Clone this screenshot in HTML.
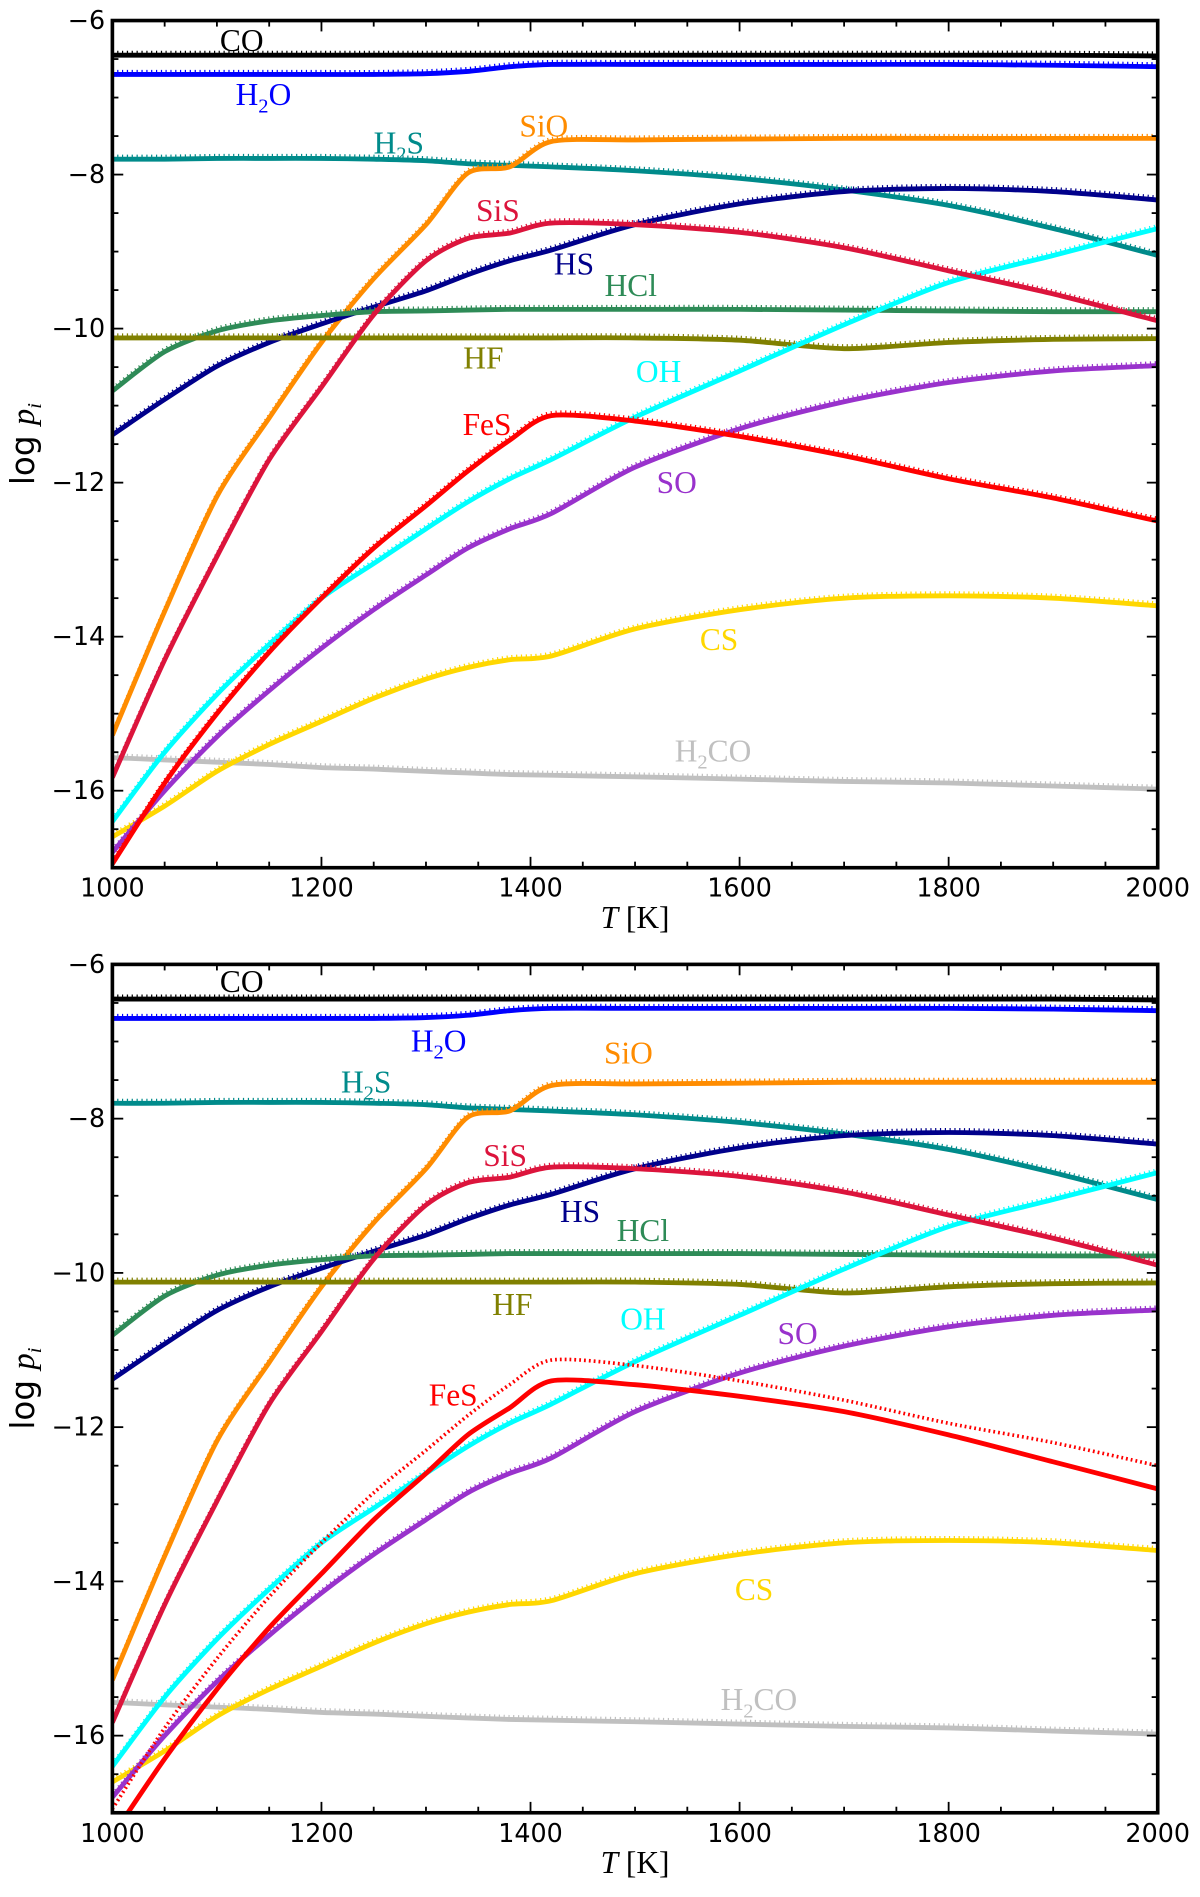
<!DOCTYPE html>
<html><head><meta charset="utf-8">
<style>
html,body{margin:0;padding:0;background:#fff;}
svg{display:block;}
.tk{font-family:"DejaVu Sans","Liberation Sans",sans-serif;font-size:21px;fill:#000;}
.lab{font-family:"Liberation Serif",serif;font-size:26px;}
</style></head>
<body>
<svg id="fig" width="1200" height="1897" viewBox="0 0 993 1569.7" preserveAspectRatio="none" xmlns="http://www.w3.org/2000/svg"></svg>
<script>
// ---------- data ----------
const temps = [1000,1050,1100,1150,1200,1250,1300,1340,1380,1420,1500,1600,1700,1800,1900,2000];
const coVals   = [-6.45,-6.45,-6.45,-6.45,-6.45,-6.45,-6.45,-6.45,-6.45,-6.45,-6.45,-6.45,-6.45,-6.45,-6.45,-6.46];
const h2oVals  = [-6.7,-6.7,-6.7,-6.7,-6.7,-6.7,-6.69,-6.66,-6.6,-6.57,-6.57,-6.57,-6.57,-6.57,-6.58,-6.6];
const h2sVals  = [-7.8,-7.8,-7.79,-7.79,-7.79,-7.8,-7.82,-7.86,-7.88,-7.9,-7.95,-8.05,-8.2,-8.4,-8.7,-9.05];
const sioVals  = [-15.28,-13.67,-12.18,-11.16,-10.18,-9.35,-8.65,-7.98,-7.9,-7.57,-7.55,-7.54,-7.53,-7.53,-7.53,-7.53];
const sisVals  = [-15.83,-14.3,-12.96,-11.7,-10.76,-9.82,-9.12,-8.83,-8.76,-8.63,-8.65,-8.75,-8.95,-9.25,-9.55,-9.9];
const hsVals   = [-11.38,-10.92,-10.49,-10.18,-9.94,-9.72,-9.51,-9.3,-9.12,-8.98,-8.65,-8.38,-8.22,-8.18,-8.22,-8.33];
const hclVals  = [-10.81,-10.3,-10.03,-9.9,-9.83,-9.78,-9.77,-9.76,-9.75,-9.75,-9.75,-9.75,-9.76,-9.77,-9.78,-9.78];
const hfVals   = [-10.12,-10.12,-10.12,-10.12,-10.12,-10.12,-10.12,-10.12,-10.12,-10.12,-10.12,-10.15,-10.26,-10.18,-10.14,-10.13];
const fesTop   = [-16.95,-15.9,-15.0,-14.2,-13.5,-12.85,-12.3,-11.85,-11.45,-11.13,-11.2,-11.4,-11.65,-11.95,-12.2,-12.5];
const fesBot   = [-17.3,-16.3,-15.4,-14.6,-13.9,-13.2,-12.6,-12.1,-11.75,-11.4,-11.45,-11.6,-11.8,-12.1,-12.45,-12.8];
const ohVals   = [-16.4,-15.5,-14.75,-14.1,-13.5,-13.05,-12.6,-12.25,-11.95,-11.7,-11.15,-10.55,-9.95,-9.4,-9.05,-8.7];
const soVals   = [-16.8,-16.0,-15.3,-14.7,-14.15,-13.65,-13.2,-12.85,-12.6,-12.4,-11.8,-11.3,-10.95,-10.7,-10.55,-10.48];
const csVals   = [-16.6,-16.2,-15.75,-15.4,-15.1,-14.8,-14.55,-14.4,-14.3,-14.25,-13.9,-13.65,-13.5,-13.47,-13.5,-13.6];
const h2coVals = [-15.57,-15.6,-15.63,-15.66,-15.7,-15.72,-15.75,-15.77,-15.79,-15.8,-15.82,-15.85,-15.88,-15.9,-15.94,-15.98];
const xTicks = [1000,1200,1400,1600,1800,2000];
const yTicks = [-6,-8,-10,-12,-14,-16];

const NS="http://www.w3.org/2000/svg";
const svg=document.getElementById('fig');
function el(tag,attrs,parent){const e=document.createElementNS(NS,tag);for(const k in attrs)e.setAttribute(k,attrs[k]);(parent||svg).appendChild(e);return e;}
function smoothPath(P){
  let d='M'+P[0][0].toFixed(1)+','+P[0][1].toFixed(1);
  for(let i=0;i<P.length-1;i++){
    const p0=P[Math.max(0,i-1)],p1=P[i],p2=P[i+1],p3=P[Math.min(P.length-1,i+2)];
    const k=1/6*0.8;
    const c1=[p1[0]+(p2[0]-p0[0])*k,p1[1]+(p2[1]-p0[1])*k];
    const c2=[p2[0]-(p3[0]-p1[0])*k,p2[1]-(p3[1]-p1[1])*k];
    d+=' C'+c1[0].toFixed(1)+','+c1[1].toFixed(1)+' '+c2[0].toFixed(1)+','+c2[1].toFixed(1)+' '+p2[0].toFixed(1)+','+p2[1].toFixed(1);
  }
  return d;
}

function drawPanel(top,bottom,fesSolid,fesDotted,labels,name,bigDotFes){
  const L=93,R=958;
  const g=el('g',{});
  
  
  const xs=t=>L+(t-1000)/1000*(R-L);
  const ys=v=>top+(-6-v)/11*(bottom-top);
  const clipId='clip'+name;
  const cp=el('clipPath',{id:clipId},g);el('rect',{x:L,y:top,width:R-L,height:bottom-top},cp);
  const lines=el('g',{'clip-path':'url(#'+clipId+')'},g);
  const series=[
    ['co',coVals,'#000'],['h2o',h2oVals,'#0000ff'],['h2s',h2sVals,'#008b8b'],['sio',sioVals,'#ff8c00'],
    ['hs',hsVals,'#00008b'],['hcl',hclVals,'#2e8b57'],['hf',hfVals,'#808000'],['h2co',h2coVals,'#c0c0c0'],
    ['cs',csVals,'#ffd700'],['so',soVals,'#9932cc'],['oh',ohVals,'#00ffff'],['sis',sisVals,'#dc143c'],['fes',fesSolid,'#ff0000']];
  const pts=arr=>temps.map((t,i)=>[xs(t),ys(arr[i])]);
  series.forEach(([n,arr,c])=>{
    const isBig=(n==='fes'&&bigDotFes);
    const d=el('path',{d:smoothPath(pts(n==='fes'?fesDotted:arr)),fill:'none',stroke:c,'stroke-width':isBig?3:2.5,'stroke-dasharray':isBig?'1.5,2.5':'1,3',transform:isBig?'':'translate(0,-2.5)'},lines);
    
    
    const s=el('path',{d:smoothPath(pts(arr)),fill:'none',stroke:c,'stroke-width':4,'stroke-linejoin':'round'},lines);
    
    
  });
  const f=el('rect',{x:L,y:top,width:R-L,height:bottom-top,fill:'none',stroke:'#000','stroke-width':3},g);
  
  
  for(let t=1000;t<=2000;t+=50){const major=t%200===0;const len=major?9:5;const x=xs(t);
    el('line',{x1:x,y1:bottom,x2:x,y2:bottom-len,stroke:'#000','stroke-width':1.5},g);
    el('line',{x1:x,y1:top,x2:x,y2:top+len,stroke:'#000','stroke-width':1.5},g);}
  for(let v=-6;v>=-17;v-=0.5){const major=Math.abs(v%2)===0;const len=major?9:5;const y=ys(v);
    el('line',{x1:L,y1:y,x2:L+len,y2:y,stroke:'#000','stroke-width':1.5},g);
    el('line',{x1:R,y1:y,x2:R-len,y2:y,stroke:'#000','stroke-width':1.5},g);}
  xTicks.forEach(t=>{const e=el('text',{x:xs(t),y:bottom+24,'text-anchor':'middle',class:'tk'},g);e.textContent=t;
    
    });
  yTicks.forEach(v=>{const e=el('text',{x:L-6,y:ys(v)+7,'text-anchor':'end',class:'tk'},g);e.textContent='\u2212'+Math.abs(v);
    
    });
  const xt=el('text',{x:(L+R)/2,y:bottom+50,'text-anchor':'middle',class:'lab',fill:'#000'},g);
  xt.innerHTML='<tspan font-style="italic">T</tspan> [K]';
  
  
  const yt=el('text',{x:0,y:0,'text-anchor':'middle',transform:'translate(28,'+((top+bottom)/2)+') rotate(-90)',fill:'#000','font-family':'"DejaVu Sans",sans-serif','font-size':'27'},g);
  yt.innerHTML='log <tspan font-family="Liberation Serif" font-style="italic">p</tspan><tspan font-family="Liberation Serif" font-style="italic" font-size="17" dy="6">i</tspan>';
  
  
  labels.forEach(([txt,x,y,c])=>{const e=el('text',{x:x,y:y+9,'text-anchor':'middle',class:'lab',fill:c},g);
    e.innerHTML=txt.replace(/_2/,'<tspan font-size="17" dy="6">2</tspan><tspan dy="-6">')+(txt.includes('_2')?'':'');
    
    });
}
const topLabels=[['CO',200,33,'#000'],['H_2O',218,78,'#0000ff'],['H_2S',330,118,'#008b8b'],['SiO',450,104,'#ff8c00'],
 ['SiS',412,174,'#dc143c'],['HS',475,218,'#00008b'],['HCl',522,236,'#2e8b57'],['HF',400,296,'#808000'],
 ['OH',545,307,'#00ffff'],['FeS',403,351,'#ff0000'],['SO',560,399,'#9932cc'],['CS',595,529,'#ffd700'],['H_2CO',590,621,'#c0c0c0']];
const botLabels=[['CO',200,812,'#000'],['H_2O',363,861,'#0000ff'],['H_2S',303,895,'#008b8b'],['SiO',520,871,'#ff8c00'],
 ['SiS',418,956,'#dc143c'],['HS',480,1002,'#00008b'],['HCl',532,1018,'#2e8b57'],['HF',424,1079,'#808000'],
 ['OH',532,1091,'#00ffff'],['SO',660,1103,'#9932cc'],['FeS',375,1154,'#ff0000'],['CS',624,1315,'#ffd700'],['H_2CO',628,1406,'#c0c0c0']];
drawPanel(17,718,fesTop,fesTop,topLabels,'top-panel',false);
drawPanel(798,1500,fesBot,fesTop,botLabels,'bottom-panel',true);
</script>
</body></html>
